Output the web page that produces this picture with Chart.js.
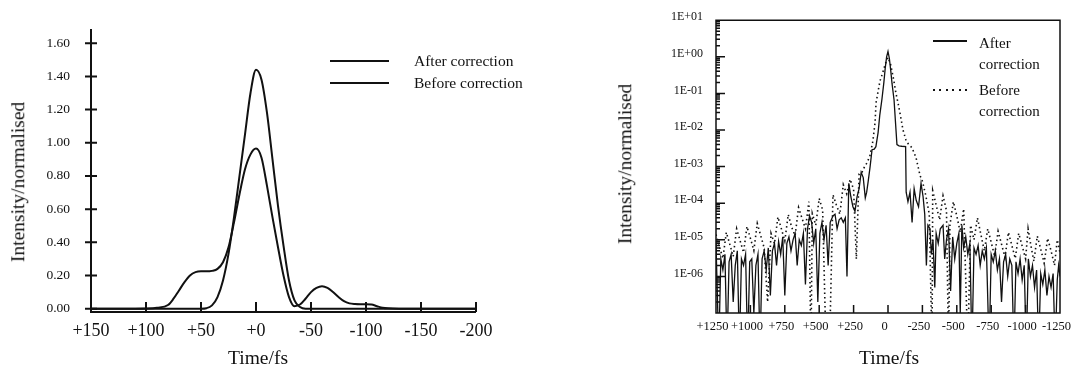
<!DOCTYPE html>
<html>
<head>
<meta charset="utf-8">
<script src="https://cdn.jsdelivr.net/npm/chart.js@4.4.1/dist/chart.umd.min.js"></script>
<style>
body { margin: 0; background: #fff; }
#wrap { position: relative; width: 1071px; height: 373px; font-family: "Liberation Serif", serif; color: #111; }
canvas { position: absolute; top: 0; }
#left { left: 0; }
#right { left: 540px; }
.txt { position: absolute; white-space: nowrap; line-height: 1; }
.ytitle { transform: translate(-50%, -50%) rotate(-90deg); font-size: 19.5px; }
.xtitle { transform: translate(-50%, -50%); font-size: 19.5px; }
.lg { transform: translateY(-50%); font-size: 15.5px; }
.ln { position: absolute; height: 2px; background: #111; }
.dt { position: absolute; height: 2px; background: repeating-linear-gradient(to right, #111 0 2px, transparent 2px 6.5px); }
</style>
</head>
<body>
<div id="wrap">
  <canvas id="left" width="540" height="373"></canvas>
  <canvas id="right" width="531" height="373"></canvas>

  <div class="txt ytitle" style="left:18px; top:182px">Intensity/normalised</div>
  <div class="txt xtitle" style="left:258px; top:358px">Time/fs</div>
  <div class="ln" style="left:330px; top:60px; width:59px"></div>
  <div class="ln" style="left:330px; top:82px; width:59px"></div>
  <div class="txt lg" style="left:414px; top:61px">After correction</div>
  <div class="txt lg" style="left:414px; top:83px">Before correction</div>

  <div class="txt ytitle" style="left:625px; top:164px">Intensity/normalised</div>
  <div class="txt xtitle" style="left:889px; top:358px">Time/fs</div>
  <div class="ln" style="left:933px; top:40px; width:34px; height:1.5px"></div>
  <div class="dt" style="left:933px; top:89px; width:34px"></div>
  <div class="txt lg" style="left:979px; top:43px; font-size:15px">After</div>
  <div class="txt lg" style="left:979px; top:64px; font-size:15px">correction</div>
  <div class="txt lg" style="left:979px; top:90px; font-size:15px">Before</div>
  <div class="txt lg" style="left:979px; top:111px; font-size:15px">correction</div>
</div>

<script>
// left panel: linear intensity
var leftTimes  = [150, 110, 100, 90, 80, 75, 70, 65, 60, 55, 50, 45, 40, 35, 30, 25, 20, 15, 10, 5, 0,
                  -5, -10, -15, -20, -25, -30, -35, -40, -45, -50, -55, -60, -65, -70, -75, -80, -85,
                  -90, -95, -100, -105, -110, -115, -120, -130, -200];
var leftAfter  = [0, 0, 0, 0, 0, 0, 0, 0, 0, 0, 0, 0.003, 0.02, 0.07, 0.17, 0.33, 0.55, 0.8, 1.05, 1.3, 1.44,
                  1.38, 1.18, 0.9, 0.62, 0.38, 0.17, 0.05, 0.01, 0, 0, 0, 0, 0, 0, 0, 0, 0,
                  0, 0, 0, 0, 0, 0, 0, 0, 0];
var leftBefore = [0, 0, 0.001, 0.006, 0.022, 0.06, 0.11, 0.16, 0.2, 0.22, 0.225, 0.225, 0.228, 0.24, 0.28, 0.37, 0.52, 0.69, 0.84, 0.93, 0.965,
                  0.91, 0.74, 0.55, 0.37, 0.2, 0.07, 0.015, 0.025, 0.06, 0.1, 0.125, 0.135, 0.125, 0.1, 0.07, 0.045, 0.032,
                  0.028, 0.027, 0.027, 0.025, 0.015, 0.006, 0.002, 0, 0];
var leftXTicks  = [150, 100, 50, 0, -50, -100, -150, -200];
var leftXLabels = ["+150", "+100", "+50", "+0", "-50", "-100", "-150", "-200"];
var leftYTicks  = [0, 0.2, 0.4, 0.6, 0.8, 1.0, 1.2, 1.4, 1.6];
var leftYLabels = ["0.00", "0.20", "0.40", "0.60", "0.80", "1.00", "1.20", "1.40", "1.60"];

// right panel: log intensity
var afterT = [1250, 1240, 1230, 1215, 1200, 1185, 1170, 1155, 1140, 1125, 1110, 1095, 1080, 1065, 1050, 1035, 1020, 1005,
              990, 975, 960, 945, 930, 915, 900, 885, 870, 855, 840, 825, 810, 795, 780, 765, 750, 735, 720, 705,
              690, 675, 660, 645, 630, 615, 600, 585, 570, 555, 540, 525, 510, 495, 480, 465, 450, 435, 420, 400,
              385, 370, 355, 340, 325, 310, 298, 285, 270, 255, 240, 225, 210, 195, 180, 165, 155, 145, 130, 116,
              100, 88, 72, 60, 44, 30, 20, 10, 0, -10, -20, -29, -44, -55, -65, -80, -100, -128, -132, -145,
              -160, -175, -190, -205, -222, -240, -255, -267, -279, -290, -305, -315, -327, -340, -350, -365, -380, -400,
              -412, -425, -440, -455, -470, -485, -500, -515, -525, -537, -550, -565, -580, -595, -610, -625, -640, -655,
              -670, -685, -700, -715, -735, -750, -765, -780, -795, -810, -825, -840, -855, -870, -885, -900, -915, -930,
              -945, -960, -975, -990, -1005, -1020, -1035, -1050, -1065, -1080, -1095, -1110, -1125, -1140, -1155, -1170, -1185, -1200,
              -1215, -1230, -1240, -1250];
var afterV = [8e-6, 3e-7, 1e-8, 3e-6, 1.5e-6, 4e-6, 1e-8, 2.5e-6, 4e-6, 2e-7, 2e-6, 5e-6, 1e-8, 3e-6, 2e-6, 4e-6, 1e-8, 2.5e-6,
              3e-6, 1e-7, 2e-6, 4e-6, 1e-8, 3e-6, 5e-6, 1.5e-6, 6e-6, 3e-7, 5e-6, 8e-6, 2e-6, 9e-6, 4e-6, 1.2e-5, 3e-7, 8e-6, 1.2e-5, 5e-6,
              1e-5, 1.5e-5, 2e-6, 1e-5, 7e-6, 1.5e-5, 6e-7, 2e-5, 4.5e-5, 3e-5, 8e-6, 2e-5, 2e-7, 1.5e-5, 3e-5, 1e-5, 2.5e-5, 2e-6, 3e-5, 4.5e-5,
              5e-5, 2e-5, 3.5e-5, 4e-5, 3e-5, 4e-5, 1e-6, 3.5e-4, 1.5e-4, 8e-5, 6e-5, 1.5e-4, 2.5e-4, 7e-4, 5e-4, 1.4e-4, 2e-4, 3.7e-4, 1e-3, 2.9e-3,
              3e-3, 3.5e-3, 8.5e-3, 0.025, 0.07, 0.2, 0.5, 1.0, 1.4, 0.9, 0.42, 0.19, 0.066, 0.015, 4e-3, 3.7e-3, 3.6e-3, 3.5e-3, 2e-4, 1.1e-4,
              2e-4, 3e-5, 2.5e-4, 1.2e-4, 8e-5, 3.5e-4, 1.5e-4, 5e-5, 2e-6, 2.5e-5, 2e-5, 4e-6, 1e-5, 5e-7, 1.5e-5, 8e-6, 2e-5, 2.5e-5,
              3e-6, 1e-5, 2e-5, 4e-7, 1.2e-5, 3e-6, 8e-6, 1.5e-5, 1e-7, 2.5e-5, 6e-6, 1.2e-5, 4e-6, 8e-6, 1e-8, 6e-6, 4e-6, 7e-6,
              2e-6, 5e-6, 3e-6, 6e-6, 1e-8, 4e-6, 2.5e-6, 5e-6, 1.5e-6, 3e-6, 2e-7, 2.5e-6, 4e-6, 1e-6, 3e-6, 2e-6, 1e-8, 2.5e-6,
              1.2e-6, 3e-6, 8e-7, 2e-6, 1e-8, 3e-6, 1e-6, 2e-6, 5e-7, 1.5e-6, 1e-8, 1.2e-6, 6e-7, 1.5e-6, 3e-7, 1e-6, 5e-7, 1.2e-6,
              1e-8, 8e-7, 2e-6, 1e-6];

var beforeT = [1250, 1225, 1200, 1175, 1150, 1125, 1100, 1075, 1050, 1025, 1000, 975, 950, 925, 900, 875, 850, 825,
               800, 775, 750, 725, 700, 675, 650, 625, 600, 575, 560, 550, 525, 500, 475, 450, 425, 400, 375, 350,
               325, 300, 275, 250, 230, 210, 189, 170, 153, 131, 110, 94, 87, 70, 58, 40, 20, 0,
               -20, -40, -58, -75, -87, -109, -130, -150, -174, -203, -233, -250, -275, -300, -320, -325, -350, -375,
               -400, -425, -440, -450, -475, -500, -525, -550, -580, -600, -625, -650, -675, -700, -725, -750, -775, -800,
               -825, -850, -875, -900, -925, -950, -975, -1000, -1018, -1040, -1060, -1085, -1110, -1135, -1160, -1185, -1210, -1230,
               -1250];
var beforeV = [1.4e-5, 6.6e-6, 3.1e-6, 1.6e-5, 7.6e-6, 3.5e-6, 2e-5, 9.5e-6, 4.5e-6, 2.3e-5, 1.1e-5, 5.1e-6, 2.8e-5, 1.3e-5, 6e-6, 2e-7, 1.5e-5, 7.8e-6,
               4.2e-5, 2e-5, 9.3e-6, 4.9e-5, 2.2e-5, 1.3e-5, 7.6e-5, 3.9e-5, 2e-5, 1.1e-4, 1e-8, 5.2e-5, 2.5e-5, 1.35e-4, 6.5e-5, 1e-8, 1e-8, 1.7e-4, 8.9e-5, 5e-5,
               3.2e-4, 1.8e-4, 4.5e-4, 2.4e-4, 3e-6, 6.3e-4, 7e-4, 1e-3, 1.26e-3, 2e-3, 5e-3, 1.6e-2, 5.5e-2, 0.126, 0.22, 0.35, 0.63, 0.96,
               0.6, 0.25, 0.1, 0.05, 0.029, 1e-2, 5.4e-3, 4e-3, 3.3e-3, 1.8e-3, 5.7e-4, 4e-4, 1.6e-4, 5e-5, 1e-8, 2.2e-4, 8.9e-5, 3.5e-5,
               1.6e-4, 6.3e-5, 1e-8, 2.5e-5, 1.1e-4, 4.5e-5, 1.6e-5, 7e-5, 1e-8, 2.5e-5, 1e-5, 4e-5, 1.4e-5, 5e-6, 2e-5, 8.5e-6, 3.6e-6, 1.7e-5,
               7.6e-6, 3.3e-6, 1.6e-5, 7e-6, 3.1e-6, 1.5e-5, 6.8e-6, 3e-6, 2e-5, 6.5e-6, 2.6e-6, 1.26e-5, 5.6e-6, 2.3e-6, 1.1e-5, 5e-6, 2e-6, 1e-5,
               4.5e-6];

var rightXTicks  = [1250, 1000, 750, 500, 250, 0, -250, -500, -750, -1000, -1250];
var rightXLabels = ["+1250", "+1000", "+750", "+500", "+250", "0", "-250", "-500", "-750", "-1000", "-1250"];
var rightYTicks  = [10, 1, 0.1, 0.01, 0.001, 1e-4, 1e-5, 1e-6];
var rightYLabels = ["1E+01", "1E+00", "1E-01", "1E-02", "1E-03", "1E-04", "1E-05", "1E-06"];

Chart.defaults.font.family = '"Liberation Serif", serif';
Chart.defaults.color = '#111';

// axis lines and tick marks drawn from the scales
var axisMarks = {
  id: 'axisMarks',
  afterDatasetsDraw: function(chart, args, o) {
    var ctx = chart.ctx, x = chart.scales.x, y = chart.scales.y, a = chart.chartArea;
    ctx.save();
    ctx.strokeStyle = '#111';
    ctx.lineWidth = o.lw;
    ctx.beginPath();
    if (o.frame) {
      ctx.rect(a.left, a.top, a.right - a.left, a.bottom - a.top);
    } else {
      ctx.moveTo(a.left, a.top); ctx.lineTo(a.left, a.bottom); ctx.lineTo(a.right, a.bottom);
    }
    x.ticks.forEach(function(t) {
      var p = x.getPixelForValue(t.value);
      ctx.moveTo(p, a.bottom); ctx.lineTo(p, a.bottom - o.xLen);
    });
    y.ticks.forEach(function(t) {
      var p = y.getPixelForValue(t.value);
      ctx.moveTo(a.left - o.yOut, p); ctx.lineTo(a.left + o.yIn, p);
    });
    if (o.minor) {
      for (var e = -7; e < 1; e++) {
        for (var k = 2; k < 10; k++) {
          var p = y.getPixelForValue(k * Math.pow(10, e));
          ctx.moveTo(a.left, p); ctx.lineTo(a.left + o.minor, p);
        }
      }
    }
    ctx.stroke();
    ctx.restore();
  }
};

function pts(tt, vv) { return tt.map(function(t, i) { return {x: t, y: vv[i]}; }); }

new Chart(document.getElementById('left'), {
  type: 'line',
  data: {
    datasets: [
      { label: 'After correction', data: pts(leftTimes, leftAfter), borderColor: '#111', borderWidth: 2,
        pointRadius: 0, cubicInterpolationMode: 'monotone', fill: false },
      { label: 'Before correction', data: pts(leftTimes, leftBefore), borderColor: '#111', borderWidth: 2,
        pointRadius: 0, cubicInterpolationMode: 'monotone', fill: false }
    ]
  },
  options: {
    responsive: false, animation: false,
    layout: { padding: { top: 20, right: 64, left: 0, bottom: 0 } },
    plugins: { legend: { display: false }, tooltip: { enabled: false },
               axisMarks: { lw: 2, xLen: 10, yOut: 6, yIn: 6 } },
    scales: {
      x: { type: 'linear', reverse: true, min: -200, max: 150,
           grid: { display: false, drawTicks: false }, border: { display: false },
           afterBuildTicks: function(s) { s.ticks = leftXTicks.map(function(v) { return {value: v}; }); },
           afterFit: function(s) { s.height = 61; s.paddingLeft = 0; s.paddingRight = 0; },
           ticks: { autoSkip: false, maxRotation: 0, padding: 8, font: { size: 18 },
                    callback: function(v, i) { return leftXLabels[i]; } } },
      y: { type: 'linear', min: -0.02, max: 1.685,
           grid: { display: false, drawTicks: false }, border: { display: false },
           afterBuildTicks: function(s) { s.ticks = leftYTicks.map(function(v) { return {value: v}; }); },
           afterFit: function(s) { s.width = 91; },
           ticks: { padding: 21, font: { size: 13.5 },
                    callback: function(v, i) { return leftYLabels[i]; } } }
    }
  },
  plugins: [axisMarks]
});

new Chart(document.getElementById('right'), {
  type: 'line',
  data: {
    datasets: [
      { label: 'After correction', data: pts(afterT, afterV), borderColor: '#111', borderWidth: 1.3,
        pointRadius: 0, tension: 0, fill: false },
      { label: 'Before correction', data: pts(beforeT, beforeV), borderColor: '#111', borderWidth: 1.6,
        borderDash: [1.5, 3], pointRadius: 0, tension: 0, fill: false }
    ]
  },
  options: {
    responsive: false, animation: false,
    layout: { padding: { top: 17, right: 11, left: 0, bottom: 0 } },
    plugins: { legend: { display: false }, tooltip: { enabled: false },
               axisMarks: { lw: 1.5, frame: true, xLen: 8, yOut: 0, yIn: 9, minor: 4 } },
    scales: {
      x: { type: 'linear', reverse: true, min: -1250, max: 1250,
           grid: { display: false, drawTicks: false }, border: { display: false },
           afterBuildTicks: function(s) { s.ticks = rightXTicks.map(function(v) { return {value: v}; }); },
           afterFit: function(s) { s.height = 60; s.paddingLeft = 0; s.paddingRight = 0; },
           ticks: { autoSkip: false, maxRotation: 0, padding: 6, labelOffset: -3.5, font: { size: 12.5 },
                    callback: function(v, i) { return rightXLabels[i]; } } },
      y: { type: 'logarithmic', min: 1e-7, max: 10,
           grid: { display: false, drawTicks: false }, border: { display: false },
           afterBuildTicks: function(s) { s.ticks = rightYTicks.map(function(v) { return {value: v}; }); },
           afterFit: function(s) { s.width = 176; },
           ticks: { padding: 13, labelOffset: -3, font: { size: 12 },
                    callback: function(v, i) { return rightYLabels[i]; } } }
    }
  },
  plugins: [axisMarks]
});
</script>
</body>
</html>
